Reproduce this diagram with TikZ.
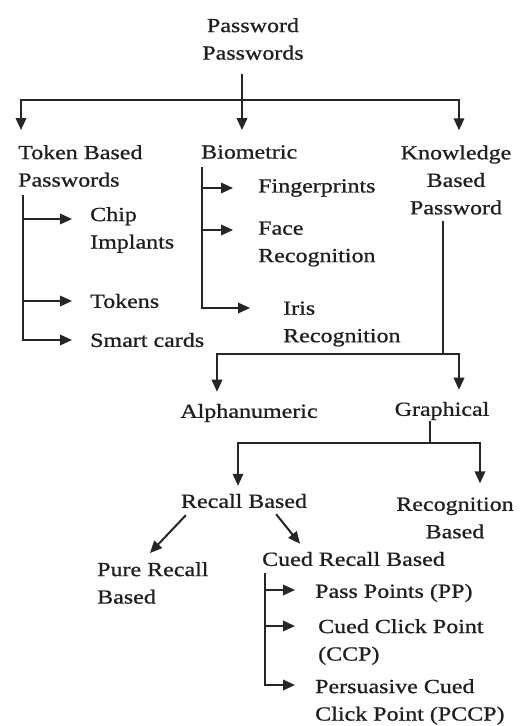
\documentclass[tikz,border=0pt]{standalone}
\usepackage{fontspec}
\setmainfont{Liberation Serif}[FakeStretch=1.2,FakeBold=0.8]
\usetikzlibrary{arrows.meta}

\begin{document}
\begin{tikzpicture}[x=1pt,y=-1pt,
  lbl/.style={inner sep=0pt, text=black!88, font=\fontsize{20}{27.5}\selectfont, align=left},
  ctr/.style={lbl, align=center},
  wire/.style={line width=2pt, draw=black!85},
  arr/.style={wire, -{Triangle[length=12pt,width=10.5pt]}},
]
\useasboundingbox (0,0) rectangle (526,726);

% ---- labels ----
\node[ctr] (root) at (253,39) {Password\\Passwords};
\node[lbl,anchor=west] (tok) at (18,166) {Token Based\\Passwords};
\node[lbl,anchor=west] (bio) at (201,152) {Biometric};
\node[ctr] (know) at (456,180) {Knowledge\\Based\\Password};
\node[lbl,anchor=west] (chip) at (90,230) {Chip\\Implants};
\node[lbl,anchor=west] (tokens) at (90,301) {Tokens};
\node[lbl,anchor=west] (smart) at (90,340) {Smart cards};
\node[lbl,anchor=west] (finger) at (258,188) {Fingerprints};
\node[lbl,anchor=west] (face) at (258,244) {Face\\Recognition};
\node[lbl,anchor=west] (iris) at (283,324) {Iris\\Recognition};
\node[ctr] (alpha) at (249,413) {Alphanumeric};
\node[ctr] (graph) at (442,411) {Graphical};
\node[ctr] (recall) at (244,501) {Recall Based};
\node[ctr] (recog) at (455,518) {Recognition\\Based};
\node[lbl,anchor=west] (pure) at (97,583) {Pure Recall\\Based};
\node[lbl,anchor=west] (cued) at (262,559) {Cued Recall Based};
\node[lbl,anchor=west] (pp) at (315,593) {Pass Points (PP)};
\node[lbl,anchor=west] (ccp) at (318,642) {Cued Click Point\\(CCP)};
\node[lbl,anchor=west] (pccp) at (315,702) {Persuasive Cued\\Click Point (PCCP)};

% ---- top level split ----
\coordinate (rtop) at ([xshift=-11pt,yshift=-14pt]root.south);
\path (rtop) ++(0,26) coordinate (rbar);
\draw[wire] (rtop) -- (rbar);
\draw[arr] (rbar) -| ([xshift=3pt,yshift=15pt]tok.north west);
\draw[arr] (rbar) -| ([xshift=3pt,yshift=15pt]know.north);
\draw[arr] (rbar) -- ([yshift=15pt]rbar |- bio.north);

% ---- token based ----
\coordinate (ttop) at ([xshift=5pt,yshift=-8pt]tok.south west);
\coordinate (chipA) at ([xshift=-18pt,yshift=11pt]chip.west);
\draw[arr] (ttop) |- ([xshift=-18pt]smart.west);
\draw[arr] (ttop |- tokens.west) -- ([xshift=-18pt]tokens.west);
\draw[arr] (ttop |- chipA) -- (chipA);

% ---- biometric ----
\coordinate (btop) at ([xshift=1pt,yshift=-8pt]bio.south west);
\coordinate (faceA) at ([xshift=-25pt,yshift=14pt]face.west);
\draw[arr] (btop) |- ([xshift=-33pt,yshift=16pt]iris.west);
\draw[arr] (btop |- finger.west) -- ([xshift=-25pt]finger.west);
\draw[arr] (btop |- faceA) -- (faceA);

% ---- knowledge based ----
\coordinate (kbot) at ([xshift=-13pt,yshift=-6pt]know.south);
\path (kbot) ++(0,133) coordinate (kbar);
\draw[wire] (kbot) -- (kbar);
\draw[arr] (kbar) -| ([xshift=-32pt,yshift=12pt]alpha.north);
\draw[arr] (kbar) -| ([xshift=17pt,yshift=12pt]graph.north);

% ---- graphical ----
\coordinate (gbot) at ([xshift=-12pt,yshift=-1pt]graph.south);
\path (gbot) ++(0,22) coordinate (gbar);
\draw[wire] (gbot) -- (gbar);
\draw[arr] (gbar) -| ([xshift=-6pt,yshift=8pt]recall.north);
\draw[arr] (gbar) -| ([xshift=25pt,yshift=14pt]recog.north);

% ---- recall based ----
\draw[arr] ([xshift=5pt,yshift=-7pt]recall.south west) -- ([xshift=53pt,yshift=9pt]pure.north west);
\draw[arr] ([xshift=-31pt,yshift=-6pt]recall.south east) -- ([xshift=38pt,yshift=8pt]cued.north west);

% ---- cued recall based ----
\coordinate (ctop) at ([xshift=3pt,yshift=-7pt]cued.south west);
\coordinate (ppA) at ([xshift=-20pt,yshift=3pt]pp.west);
\coordinate (ccpA) at ([xshift=-23pt,yshift=16pt]ccp.west);
\draw[arr] (ctop) |- ([xshift=-20pt,yshift=17pt]pccp.west);
\draw[arr] (ctop |- ppA) -- (ppA);
\draw[arr] (ctop |- ccpA) -- (ccpA);
\end{tikzpicture}
\end{document}
